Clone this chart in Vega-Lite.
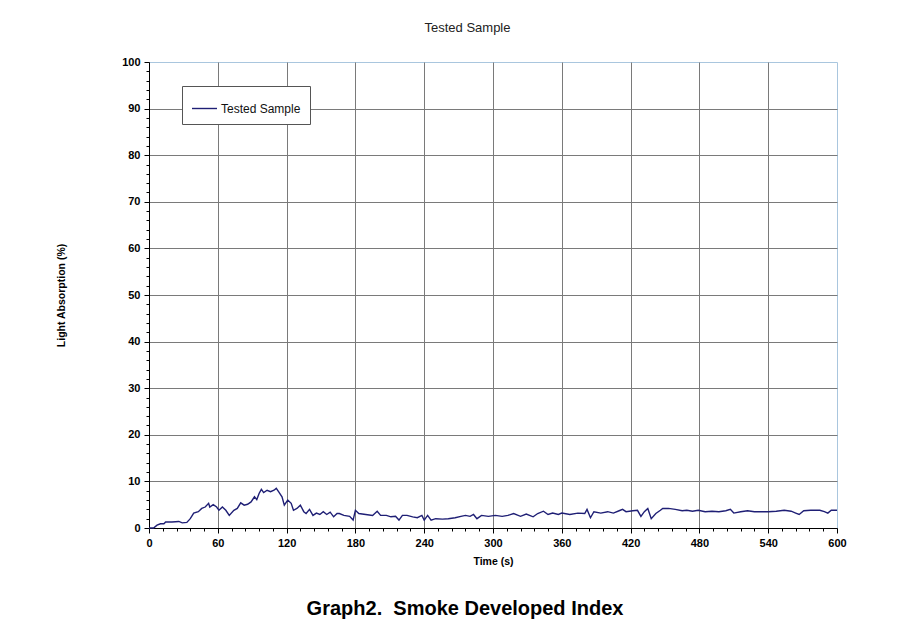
{
  "$schema": "https://vega.github.io/schema/vega-lite/v6.json",
  "width": 688,
  "height": 466,
  "autosize": {"type": "none"},
  "padding": {"left": 149, "top": 62, "right": 67, "bottom": 105},
  "background": "white",
  "title": {
    "text": "Graph2.\u00a0 Smoke Developed Index",
    "orient": "bottom",
    "anchor": "middle",
    "font": "Liberation Sans",
    "fontSize": 20,
    "fontWeight": "bold",
    "color": "black",
    "offset": 32,
    "dx": -28
  },
  "data": {
    "values": [
      {"t": 0, "v": 0}, {"t": 4, "v": 0}, {"t": 7, "v": 0.6}, {"t": 10, "v": 0.9}, {"t": 13, "v": 0.9},
      {"t": 14.5, "v": 1.3}, {"t": 20, "v": 1.3}, {"t": 26, "v": 1.4}, {"t": 29, "v": 1.1}, {"t": 33, "v": 1.2},
      {"t": 36, "v": 2.0}, {"t": 39, "v": 3.2}, {"t": 43, "v": 3.5}, {"t": 46, "v": 4.2}, {"t": 49, "v": 4.5},
      {"t": 52, "v": 5.3}, {"t": 53, "v": 4.5}, {"t": 56, "v": 5.0}, {"t": 59, "v": 4.5}, {"t": 61, "v": 3.8},
      {"t": 64, "v": 4.5}, {"t": 67, "v": 3.8}, {"t": 70, "v": 2.7}, {"t": 74, "v": 3.8}, {"t": 77, "v": 4.2},
      {"t": 80, "v": 5.4}, {"t": 83, "v": 4.9}, {"t": 86, "v": 5.1}, {"t": 89, "v": 5.6}, {"t": 92, "v": 6.7},
      {"t": 94, "v": 6.1}, {"t": 96, "v": 7.4}, {"t": 98, "v": 8.3}, {"t": 100, "v": 7.6}, {"t": 103, "v": 8.1},
      {"t": 106, "v": 7.8}, {"t": 109, "v": 8.1}, {"t": 111, "v": 8.5}, {"t": 113, "v": 7.8}, {"t": 116, "v": 6.7},
      {"t": 118, "v": 4.9}, {"t": 121, "v": 6.0}, {"t": 124, "v": 5.3}, {"t": 126, "v": 3.8}, {"t": 129, "v": 4.2},
      {"t": 132, "v": 4.9}, {"t": 135, "v": 3.5}, {"t": 137, "v": 3.1}, {"t": 140, "v": 4.0}, {"t": 143, "v": 2.7},
      {"t": 146, "v": 3.2}, {"t": 149, "v": 2.9}, {"t": 152, "v": 3.5}, {"t": 155, "v": 2.9}, {"t": 158, "v": 3.4},
      {"t": 161, "v": 2.4}, {"t": 164, "v": 3.1}, {"t": 166, "v": 3.1}, {"t": 170, "v": 2.7}, {"t": 175, "v": 2.5},
      {"t": 178, "v": 1.7}, {"t": 180, "v": 3.8}, {"t": 183, "v": 3.1}, {"t": 189, "v": 2.9}, {"t": 195, "v": 2.7},
      {"t": 199, "v": 3.6}, {"t": 202, "v": 2.7}, {"t": 207, "v": 2.7}, {"t": 211, "v": 2.4}, {"t": 215, "v": 2.5},
      {"t": 218, "v": 1.7}, {"t": 221, "v": 2.7}, {"t": 225, "v": 2.7}, {"t": 230, "v": 2.4}, {"t": 234, "v": 2.2},
      {"t": 238, "v": 2.7}, {"t": 240, "v": 1.7}, {"t": 243, "v": 2.7}, {"t": 246, "v": 1.7}, {"t": 250, "v": 2.0},
      {"t": 256, "v": 1.9}, {"t": 261, "v": 2.0}, {"t": 267, "v": 2.2}, {"t": 272, "v": 2.5}, {"t": 276, "v": 2.7},
      {"t": 280, "v": 2.5}, {"t": 283, "v": 2.9}, {"t": 286, "v": 2.0}, {"t": 290, "v": 2.7}, {"t": 296, "v": 2.5},
      {"t": 302, "v": 2.7}, {"t": 308, "v": 2.5}, {"t": 313, "v": 2.7}, {"t": 318, "v": 3.1}, {"t": 324, "v": 2.5},
      {"t": 329, "v": 3.0}, {"t": 335, "v": 2.4}, {"t": 339, "v": 3.1}, {"t": 344, "v": 3.6}, {"t": 348, "v": 2.9},
      {"t": 352, "v": 3.2}, {"t": 357, "v": 2.9}, {"t": 360, "v": 3.2}, {"t": 367, "v": 2.9}, {"t": 374, "v": 3.2},
      {"t": 380, "v": 3.1}, {"t": 382, "v": 4.0}, {"t": 385, "v": 2.2}, {"t": 388, "v": 3.5}, {"t": 394, "v": 3.2},
      {"t": 400, "v": 3.5}, {"t": 405, "v": 3.2}, {"t": 410, "v": 3.7}, {"t": 413, "v": 4.0}, {"t": 416, "v": 3.5},
      {"t": 422, "v": 3.7}, {"t": 426, "v": 3.8}, {"t": 429, "v": 2.5}, {"t": 432, "v": 3.5}, {"t": 435, "v": 4.2},
      {"t": 438, "v": 2.0}, {"t": 442, "v": 3.1}, {"t": 446, "v": 3.8}, {"t": 448, "v": 4.2}, {"t": 453, "v": 4.2},
      {"t": 459, "v": 4.0}, {"t": 465, "v": 3.7}, {"t": 469, "v": 3.8}, {"t": 474, "v": 3.6}, {"t": 479, "v": 3.8},
      {"t": 485, "v": 3.5}, {"t": 491, "v": 3.6}, {"t": 497, "v": 3.5}, {"t": 503, "v": 3.7}, {"t": 507, "v": 4.0},
      {"t": 510, "v": 3.2}, {"t": 516, "v": 3.5}, {"t": 522, "v": 3.7}, {"t": 528, "v": 3.5}, {"t": 535, "v": 3.5},
      {"t": 540, "v": 3.5}, {"t": 547, "v": 3.6}, {"t": 554, "v": 3.8}, {"t": 560, "v": 3.6}, {"t": 564, "v": 3.2},
      {"t": 567, "v": 2.9}, {"t": 571, "v": 3.7}, {"t": 577, "v": 3.8}, {"t": 585, "v": 3.8}, {"t": 589, "v": 3.5},
      {"t": 592, "v": 3.2}, {"t": 595, "v": 3.8}, {"t": 600, "v": 3.8}
    ]
  },
  "layer": [
    {
      "mark": {"type": "line", "opacity": 0},
      "encoding": {
        "x": {
          "field": "t", "type": "quantitative",
          "scale": {"domain": [0, 600], "nice": false, "zero": false},
          "axis": {
            "values": [0, 60, 120, 180, 240, 300, 360, 420, 480, 540],
            "labels": false, "ticks": false, "grid": true, "domain": false, "title": null, "orient": "bottom",
            "gridColor": "#7a7a7a"
          }
        },
        "y": {
          "field": "v", "type": "quantitative",
          "scale": {"domain": [0, 100], "nice": false},
          "axis": {
            "values": [0, 10, 20, 30, 40, 50, 60, 70, 80, 90],
            "labels": false, "ticks": false, "grid": true, "domain": false, "title": null, "orient": "left",
            "gridColor": "#7a7a7a"
          }
        }
      }
    },
    {
      "mark": {"type": "line", "opacity": 0},
      "encoding": {
        "x": {
          "field": "t", "type": "quantitative",
          "axis": {
            "values": [12, 24, 36, 48, 72, 84, 96, 108, 132, 144, 156, 168, 192, 204, 216, 228, 252, 264, 276, 288, 312, 324, 336, 348, 372, 384, 396, 408, 432, 444, 456, 468, 492, 504, 516, 528, 552, 564, 576, 588],
            "labels": false, "grid": false, "domain": false, "tickSize": 3, "title": null, "orient": "bottom"
          }
        },
        "y": {
          "field": "v", "type": "quantitative",
          "axis": {
            "values": [2, 4, 6, 8, 12, 14, 16, 18, 22, 24, 26, 28, 32, 34, 36, 38, 42, 44, 46, 48, 52, 54, 56, 58, 62, 64, 66, 68, 72, 74, 76, 78, 82, 84, 86, 88, 92, 94, 96, 98],
            "labels": false, "grid": false, "domain": false, "tickSize": 3, "title": null, "orient": "left"
          }
        }
      }
    },
    {
      "mark": {"type": "line", "opacity": 0},
      "encoding": {
        "x": {
          "field": "t", "type": "quantitative",
          "axis": {
            "orient": "top", "labels": false, "ticks": false, "domain": false, "grid": false,
            "title": "Tested Sample", "titleFont": "Liberation Sans", "titleFontSize": 13,
            "titleFontWeight": "normal", "titleColor": "#222222", "titlePadding": 28, "titleX": 318
          }
        },
        "y": {"field": "v", "type": "quantitative", "axis": null}
      }
    },
    {
      "mark": {"type": "line", "strokeWidth": 1.4, "interpolate": "linear"},
      "encoding": {
        "x": {
          "field": "t", "type": "quantitative",
          "axis": {
            "values": [0, 60, 120, 180, 240, 300, 360, 420, 480, 540, 600],
            "title": "Time (s)", "orient": "bottom", "titlePadding": 8, "grid": false, "labelFlush": false
          }
        },
        "y": {
          "field": "v", "type": "quantitative",
          "axis": {
            "values": [0, 10, 20, 30, 40, 50, 60, 70, 80, 90, 100],
            "title": "Light Absorption (%)", "orient": "left", "titlePadding": 55, "grid": false, "labelFlush": false
          }
        },
        "color": {
          "datum": "Tested Sample",
          "scale": {"range": ["#1f1f75"]},
          "legend": {
            "title": null,
            "orient": "none",
            "legendX": 33,
            "legendY": 24,
            "symbolType": "stroke",
            "symbolSize": 625,
            "symbolStrokeWidth": 1.4,
            "labelFont": "Liberation Sans",
            "labelFontSize": 12,
            "labelColor": "#111111",
            "labelOffset": 3,
            "padding": 9,
            "strokeColor": "#555555",
            "fillColor": "white"
          }
        }
      }
    }
  ],
  "resolve": {"axis": {"x": "independent", "y": "independent"}},
  "config": {
    "view": {"stroke": "#a9c6de", "strokeWidth": 1},
    "axis": {
      "labelFont": "Liberation Sans",
      "labelFontSize": 11,
      "labelFontWeight": "bold",
      "labelColor": "black",
      "labelPadding": 4,
      "titleFont": "Liberation Sans",
      "titleFontSize": 10.5,
      "titleFontWeight": "bold",
      "titleColor": "black",
      "tickColor": "black",
      "tickSize": 5,
      "domainColor": "black",
      "gridOpacity": 1,
      "gridWidth": 1
    }
  }
}
